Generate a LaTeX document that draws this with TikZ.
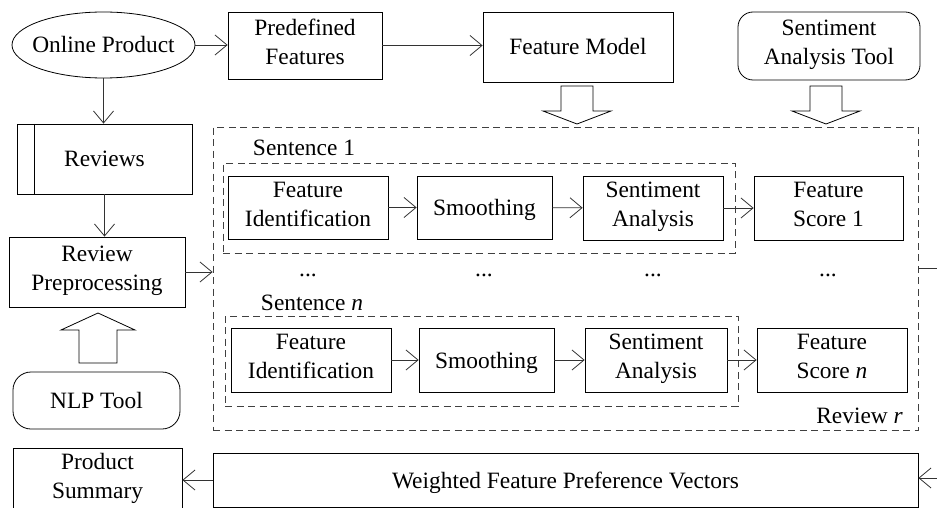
\documentclass[tikz,border=0pt]{standalone}
\usepackage{fontspec}
\setmainfont{Liberation Serif}
\usetikzlibrary{arrows.meta,shapes.geometric,calc}
\newcommand\mystrut{\rule[-7pt]{0pt}{30pt}}
\begin{document}
\begin{tikzpicture}[x=1pt,y=-1pt,
  every node/.style={font=\fontsize{23.4}{29}\selectfont, inner sep=0pt, align=center,
    execute at begin node=\mystrut, execute at end node=\mystrut},
  box/.style={draw, line width=0.8pt, rectangle},
  rbox/.style={box, rounded corners=#1},
  dbox/.style={draw=black!75, line width=0.8pt, dash pattern=on 7pt off 4.5pt},
  conn/.style={draw=black!80, line width=0.8pt, -{Straight Barb[length=12pt,width=20pt]}},
  plainline/.style={draw=black!80, line width=0.8pt},
  blk/.style={draw, line width=0.8pt, fill=white},
]
\useasboundingbox (0,0) rectangle (937,508);

% top row
\node[draw, line width=0.8pt, ellipse, minimum width=183pt, minimum height=66pt, execute at begin node={}, execute at end node={}] (prod) at (103.5,45) {};
\node at (prod) {Online Product};
\node[box, minimum width=154pt, minimum height=67pt] (predef) at (305,45.5) {Predefined\\Features};
\node[box, minimum width=190pt, minimum height=70pt] (fmodel) at (578,47) {Feature Model};
\node[rbox=15pt, minimum width=182pt, minimum height=68pt] (satool) at (829,46) {Sentiment\\Analysis Tool};

% left column
\node[box, minimum width=175pt, minimum height=70pt] (reviews) at (104.5,159) {Reviews};
\draw[line width=0.8pt] (34,124) -- (34,194);
\node[box, minimum width=176pt, minimum height=70pt] (rpre) at (97,272) {Review\\Preprocessing};
\node[rbox=18pt, minimum width=167pt, minimum height=57pt] (nlp) at (96.5,400.5) {NLP Tool};
\node[box, minimum width=169pt, minimum height=62pt] (psum) at (97.5,479) {Product\\Summary};

% review block
\node[dbox, minimum width=705pt, minimum height=303pt] (rev) at (565.5,278.5) {};
\node[dbox, minimum width=512pt, minimum height=90pt] (s1) at (479,208) {};
\node[dbox, minimum width=513pt, minimum height=90pt] (sn) at (481.5,361) {};
\node (s1lab) at (304,148) {Sentence 1};
\node (snlab) at (312,302) {Sentence \textit{n}};

\node[box, minimum width=160pt, minimum height=63pt] (fi1) at (308,207.5) {Feature\\Identification};
\node[box, minimum width=135pt, minimum height=63pt] (sm1) at (484.5,207.5) {Smoothing};
\node[box, minimum width=140pt, minimum height=64pt] (sa1) at (653,208) {Sentiment\\Analysis};
\node[box, minimum width=149pt, minimum height=64pt] (fs1) at (828.5,208) {Feature\\Score 1};

\node (d1) at (308,268) {...};
\node (d2) at (484,268) {...};
\node (d3) at (653,268) {...};
\node (d4) at (828,268) {...};

\node[box, minimum width=160pt, minimum height=64pt] (fin) at (311,360) {Feature\\Identification};
\node[box, minimum width=135pt, minimum height=64pt] (smn) at (486.5,360) {Smoothing};
\node[box, minimum width=142pt, minimum height=64pt] (san) at (656,360) {Sentiment\\Analysis};
\node[box, minimum width=150pt, minimum height=64pt] (fsn) at (832,360) {Feature\\Score \textit{n}};
\node[anchor=east] (revlab) at (903,415) {Review \textit{r}};

% bottom
\node[box, minimum width=705pt, minimum height=54pt] (wfpv) at (565.5,480) {Weighted Feature Preference Vectors};

% connectors
\draw[conn] (prod.east) -- (prod.east -| predef.west);
\draw[conn] (predef.east) -- (predef.east -| fmodel.west);
\draw[conn] (prod.south) -- (prod.south |- reviews.north);
\draw[conn] (reviews.south) -- (reviews.south |- rpre.north);
\draw[conn] (rpre.east) -- (rpre.east -| rev.west);
\draw[conn] (fi1) -- (sm1);
\draw[conn] (sm1) -- (sa1);
\draw[conn] (sa1) -- (fs1);
\draw[conn] (fin) -- (smn);
\draw[conn] (smn) -- (san);
\draw[conn] (san) -- (fsn);
\coordinate (out1) at (950,268);
\coordinate (out2) at (950,478);
\draw[plainline] (rev.east |- out1) -- (out1);
\draw[conn] (out2) -- (out2 -| wfpv.east);
\draw[conn] (wfpv.west) -- (wfpv.west -| psum.east);

% block arrows
\draw[blk] (561,86) -- (593,86) -- (593,111) -- (611,111) -- (577,124) -- (543,111) -- (561,111) -- cycle;
\draw[blk] (810,86) -- (842,86) -- (842,111) -- (860,111) -- (826,124) -- (792,111) -- (810,111) -- cycle;
\draw[blk] (79,363) -- (117,363) -- (117,330) -- (135,330) -- (98,313) -- (61,330) -- (79,330) -- cycle;
\end{tikzpicture}
\end{document}
